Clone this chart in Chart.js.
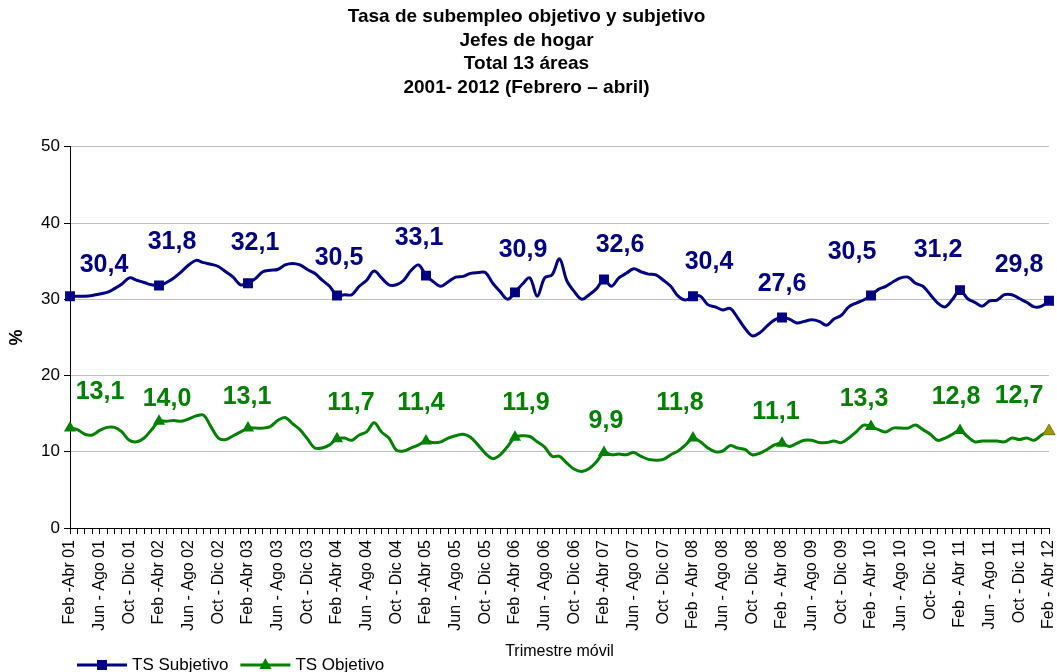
<!DOCTYPE html>
<html>
<head>
<meta charset="utf-8">
<title>Tasa de subempleo</title>
<script src="https://cdn.jsdelivr.net/npm/chart.js@4.4.1/dist/chart.umd.min.js"></script>
<style>
    html, body { margin: 0; padding: 0; background: #ffffff; }
    #myChart { display: block; }
</style>
</head>
<body>
<canvas id="myChart" width="1057" height="672"></canvas>
<script>
// rolling quarter names, one per month
const quarters = ["Feb-Abr", "Mar-May", "Abr-Jun", "May-Jul", "Jun-Ago", "Jul-Sep",
    "Ago-Oct", "Sep-Nov", "Oct-Dic", "Nov-Ene", "Dic-Feb", "Ene-Mar"];

// labels printed on the axis (every 4th period)
const tickLabels = ["Feb -Abr 01", "Jun - Ago 01", "Oct - Dic 01", "Feb -Abr 02", "Jun - Ago 02", "Oct - Dic 02",
    "Feb -Abr 03", "Jun - Ago 03", "Oct - Dic 03", "Feb -Abr 04", "Jun - Ago 04", "Oct - Dic 04",
    "Feb -Abr 05", "Jun - Ago 05", "Oct - Dic 05", "Feb -Abr 06", "Jun - Ago 06", "Oct - Dic 06",
    "Feb -Abr 07", "Jun - Ago 07", "Oct - Dic 07", "Feb - Abr 08", "Jun - Ago 08", "Oct - Dic 08",
    "Feb - Abr 08", "Jun - Ago 09", "Oct - Dic 09", "Feb - Abr 10", "Jun - Ago 10", "Oct- Dic 10",
    "Feb - Abr 11", "Jun - Ago 11", "Oct - Dic 11", "Feb - Abr 12"];

// TS Subjetivo, Feb-Abr 01 .. Feb-Abr 12
const subjetivo = [
    30.4, 30.4, 30.4, 30.5, 30.7, 30.9, 31.4, 32.0, 32.8, 32.5, 32.2, 31.9,
    31.8, 32.2, 32.8, 33.6, 34.5, 35.1, 34.8, 34.6, 34.3, 33.6, 32.9, 31.9,
    32.1, 32.7, 33.6, 33.8, 33.9, 34.5, 34.7, 34.5, 33.9, 33.4, 32.5, 31.7,
    30.5, 30.6, 30.6, 31.7, 32.5, 33.7, 32.8, 31.9, 31.9, 32.5, 33.8, 34.5,
    33.1, 32.3, 31.7, 32.3, 32.9, 33.0, 33.4, 33.5, 33.5, 32.1, 31.0, 30.0,
    30.9, 32.0, 32.8, 30.4, 32.8, 33.2, 35.3, 32.4, 31.0, 30.0, 30.6, 31.4,
    32.6, 31.7, 32.8, 33.4, 34.0, 33.6, 33.3, 33.2, 32.5, 31.7, 30.4, 29.9,
    30.4, 30.4, 29.3, 29.0, 28.6, 28.8, 27.6, 26.2, 25.2, 25.6, 26.5, 27.3,
    27.6, 27.4, 26.9, 27.1, 27.3, 27.1, 26.6, 27.4, 27.9, 29.0, 29.5, 29.9,
    30.5, 31.3, 31.7, 32.3, 32.8, 32.9, 32.1, 31.7, 30.6, 29.5, 29.0, 30.0,
    31.2, 30.1, 29.6, 29.1, 29.8, 29.9, 30.6, 30.6, 30.1, 29.6, 29.0, 29.1,
    29.8
];

// TS Objetivo, same periods
const objetivo = [
    13.1, 12.9, 12.3, 12.2, 12.8, 13.2, 13.2, 12.6, 11.5, 11.3, 11.8, 12.9,
    14.0, 14.0, 14.1, 14.0, 14.3, 14.7, 14.8, 13.3, 11.8, 11.6, 12.1, 12.6,
    13.1, 13.1, 13.1, 13.3, 14.1, 14.5, 13.7, 12.9, 11.7, 10.5, 10.5, 10.9,
    11.7, 11.8, 11.5, 12.2, 12.6, 13.8, 12.6, 11.8, 10.2, 10.1, 10.5, 10.9,
    11.4, 11.2, 11.3, 11.8, 12.1, 12.3, 11.9, 10.9, 9.8, 9.1, 9.6, 10.7,
    11.9, 12.1, 12.0, 11.3, 10.6, 9.4, 9.4, 8.5, 7.7, 7.4, 7.8, 8.7,
    9.9, 9.6, 9.7, 9.6, 9.9, 9.4, 9.0, 8.9, 9.0, 9.6, 10.1, 10.9,
    11.8, 11.3, 10.5, 10.0, 10.1, 10.8, 10.5, 10.3, 9.6, 9.8, 10.3, 10.9,
    11.1, 10.7, 11.1, 11.5, 11.5, 11.2, 11.2, 11.4, 11.2, 11.8, 12.6, 13.5,
    13.3, 12.9, 12.6, 13.1, 13.1, 13.1, 13.5, 12.9, 12.3, 11.5, 11.8, 12.3,
    12.8, 12.0, 11.3, 11.4, 11.4, 11.4, 11.3, 11.8, 11.6, 11.8, 11.5, 12.2,
    12.7
];

// where each yearly value label sits relative to its marker (px)
const subjLabelOffsets = [[34, -31], [13, -43], [7, -40], [2, -37], [-7, -38], [8, -42],
    [16, -34], [16, -34], [0, -33], [-19, -43], [-22, -40], [-30, -36]];
const objLabelOffsets = [[30, -36], [8, -22], [-1, -31], [14, -36], [-5, -38], [11, -34],
    [2, -31], [-13, -35], [-6, -31], [-7, -27], [-4, -33], [-30, -35]];

const categories = [];
for (let i = 0; i < subjetivo.length; i++) {
    const yr = 1 + Math.floor(i / 12);
    categories.push(quarters[i % 12] + " " + String(yr).padStart(2, "0"));
}

const navy = "#000080";
const green = "#008000";
const olive = "#999900";
const fontFamily = '"Liberation Sans", Arial, Helvetica, sans-serif';

Chart.defaults.font.family = fontFamily;
Chart.defaults.color = "#000000";

// yearly value labels above the Feb-Abr markers
const valueLabels = {
    id: "valueLabels",
    afterDatasetsDraw(chart) {
        const ctx = chart.ctx;
        const offsets = [subjLabelOffsets, objLabelOffsets];
        ctx.save();
        ctx.font = "bold 25px " + fontFamily;
        ctx.textAlign = "center";
        ctx.textBaseline = "middle";
        chart.data.datasets.forEach((ds, di) => {
            const meta = chart.getDatasetMeta(di);
            ctx.fillStyle = ds.borderColor;
            for (let k = 0; k * 12 < ds.data.length; k++) {
                const pt = meta.data[k * 12];
                const txt = ds.data[k * 12].toFixed(1).replace(".", ",");
                ctx.fillText(txt, pt.x + offsets[di][k][0], pt.y + offsets[di][k][1]);
            }
        });
        ctx.restore();
    }
};

// excel style legend: line with marker in the middle
const lineLegend = {
    id: "lineLegend",
    afterDraw(chart) {
        const ctx = chart.ctx;
        const y = chart.height - 7;
        let x = 77;
        ctx.save();
        ctx.font = "17px " + fontFamily;
        ctx.textBaseline = "middle";
        ctx.textAlign = "left";
        chart.data.datasets.forEach((ds) => {
            ctx.strokeStyle = ds.borderColor;
            ctx.fillStyle = ds.borderColor;
            ctx.lineWidth = 3;
            ctx.beginPath();
            ctx.moveTo(x, y);
            ctx.lineTo(x + 50, y);
            ctx.stroke();
            const cx = x + 25;
            if (ds.pointStyle === "rect") {
                ctx.fillRect(cx - 5, y - 5, 10, 10);
            } else {
                ctx.beginPath();
                ctx.moveTo(cx, y - 7);
                ctx.lineTo(cx + 6, y + 4);
                ctx.lineTo(cx - 6, y + 4);
                ctx.closePath();
                ctx.fill();
            }
            ctx.fillStyle = "#000000";
            ctx.fillText(ds.label, x + 55, y);
            x += 55 + ctx.measureText(ds.label).width + 12;
        });
        ctx.restore();
    }
};

const markerRadius = (c) => (c.dataIndex % 12 === 0 ? 7 : 0);

new Chart(document.getElementById("myChart"), {
    type: "line",
    data: {
        labels: categories,
        datasets: [{
            label: "TS Subjetivo",
            data: subjetivo,
            borderColor: navy,
            backgroundColor: navy,
            borderWidth: 3,
            pointStyle: "rect",
            pointRadius: markerRadius,
            pointHoverRadius: markerRadius,
            pointBackgroundColor: navy,
            pointBorderWidth: 0,
            tension: 0.35
        }, {
            label: "TS Objetivo",
            data: objetivo,
            borderColor: green,
            backgroundColor: green,
            borderWidth: 3,
            pointStyle: "triangle",
            pointRadius: markerRadius,
            pointHoverRadius: markerRadius,
            pointBackgroundColor: (c) => (c.dataIndex === objetivo.length - 1 ? olive : green),
            pointBorderColor: (c) => (c.dataIndex === objetivo.length - 1 ? "#777700" : green),
            pointBorderWidth: (c) => (c.dataIndex === objetivo.length - 1 ? 1 : 0),
            tension: 0.35
        }]
    },
    options: {
        responsive: false,
        animation: false,
        layout: { padding: { top: 0, right: 4, bottom: 0, left: 0 } },
        plugins: {
            legend: { display: false },
            tooltip: { enabled: false },
            title: {
                display: true,
                text: ["Tasa de subempleo objetivo y subjetivo", "Jefes de hogar", "Total 13 áreas", "2001- 2012 (Febrero – abril)"],
                font: { size: 19, weight: "bold", lineHeight: 1.247 },
                color: "#000000",
                padding: { top: 5, bottom: 47 }
            }
        },
        scales: {
            x: {
                offset: false,
                border: { display: true, color: "#000000", width: 1 },
                grid: {
                    display: true,
                    drawOnChartArea: false,
                    drawTicks: true,
                    tickLength: 6,
                    tickColor: "#000000"
                },
                ticks: {
                    autoSkip: false,
                    minRotation: 90,
                    maxRotation: 90,
                    padding: 6,
                    font: { size: 16 },
                    color: "#000000",
                    callback: function (val, index) {
                        return index % 4 === 0 ? tickLabels[index / 4] : "";
                    }
                },
                title: {
                    display: true,
                    text: "Trimestre móvil",
                    font: { size: 16 },
                    color: "#000000",
                    padding: { top: 0, bottom: 11 }
                },
                afterFit: function (scale) {
                    scale.height = 144;
                    scale.paddingLeft = 0;
                    scale.paddingRight = 0;
                }
            },
            y: {
                min: 0,
                max: 50,
                border: { display: true, color: "#000000", width: 1 },
                grid: {
                    color: "#c0c0c0",
                    tickColor: "#000000",
                    tickLength: 6
                },
                ticks: {
                    stepSize: 10,
                    padding: 4,
                    font: { size: 17 },
                    color: "#000000"
                },
                title: {
                    display: true,
                    text: "%",
                    font: { size: 18, weight: "bold" },
                    color: "#000000",
                    padding: { top: 6, bottom: 0 }
                },
                afterFit: function (scale) {
                    scale.width = 70;
                }
            }
        }
    },
    plugins: [valueLabels, lineLegend]
});
</script>
</body>
</html>
